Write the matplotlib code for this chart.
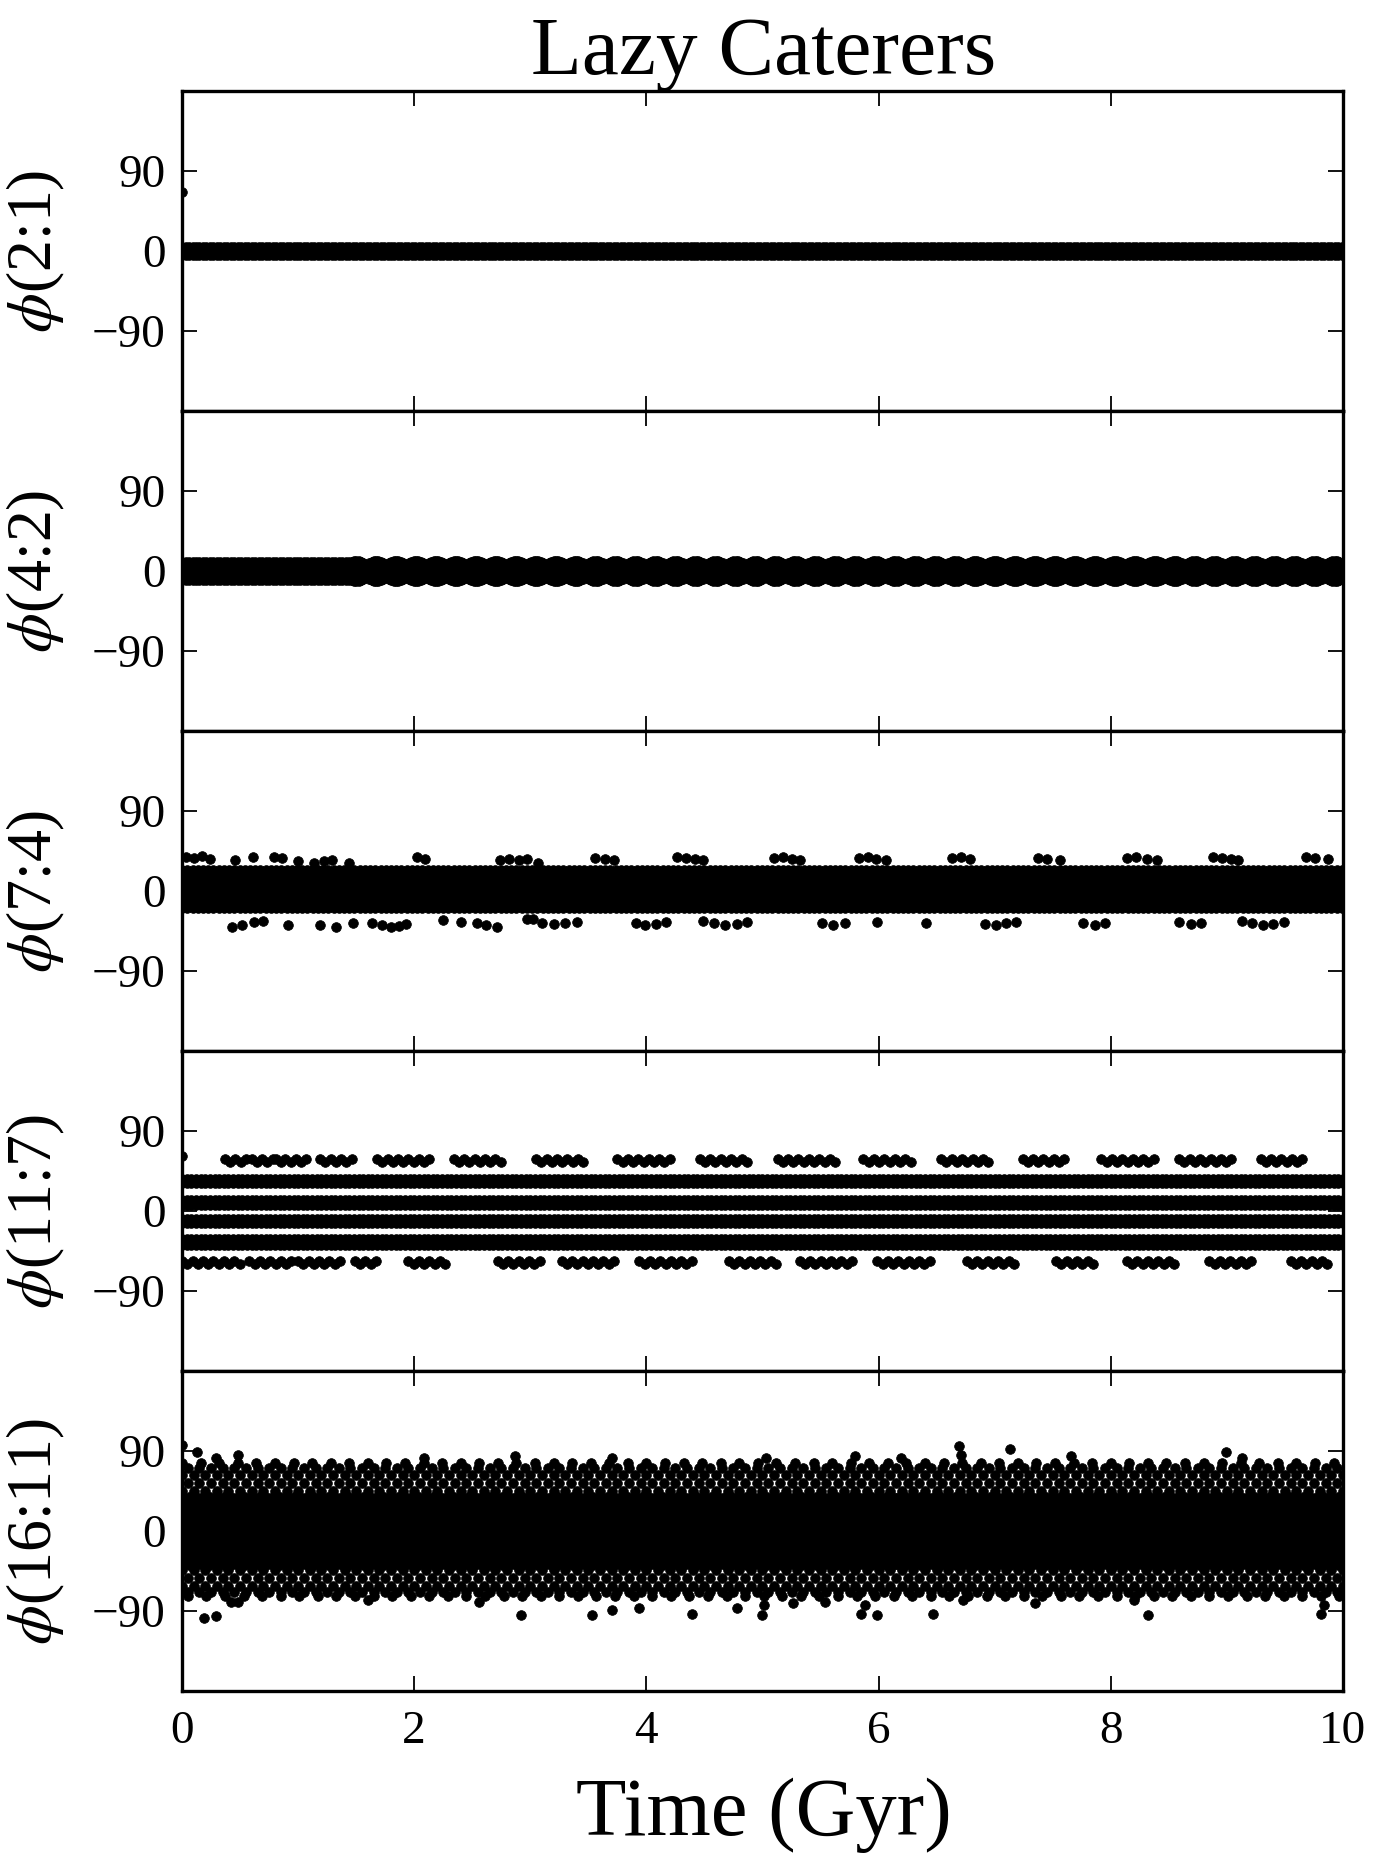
import numpy as np
import matplotlib
matplotlib.use("Agg")
import matplotlib.pyplot as plt

plt.rcParams.update({
    "font.family": ["Liberation Serif", "DejaVu Serif"],
    "mathtext.fontset": "stix",
    "axes.unicode_minus": True,
})

# ---------------------------------------------------------------- data
TITLE = "Lazy Caterers"
X_LABEL = "Time (Gyr)"
resonances = ["2:1", "4:2", "7:4", "11:7", "16:11"]
time_ticks = [0, 2, 4, 6, 8, 10]
phi_ticks = [-90, 0, 90]
T_MAX = 10

# Fully inked bands of points: (t_start, t_end, lower, upper, sampling of edge points)
bands_21 = [(0, 10, -4.5, 4.5, 0.03)]
bands_42 = [(0, 1.5, -10.5, 10.5, 0.03)]
# 4:2 libration after 1.5 Gyr: band core and scalloped edges
band_42_core = (1.5, 10, -9, 9)
scallop_42_start = 1.5
scallop_42_period = 0.172
scallop_42_dt = [-0.06, -0.04, -0.02, 0.0, 0.02, 0.04, 0.06]
scallop_42_phi = [9.0, 10.3, 11.0, 11.2, 11.0, 10.3, 9.0]

bands_74 = [(0, 10, -19, 24, 0.045)]
bands_117 = [(0, 10, 32, 36, 0.04), (0, 10, 7, 12.5, 0.04),
             (0, 10, -13.5, -9, 0.04), (0, 10, -38, -32, 0.04)]
bands_1611 = [(0, 10, -38, 38, 0.06)]

# sparse outer rows of the 16:11 cloud (degrees) and their time sampling
rows_1611 = [45, 54, 63, 71, -44, -53, -62, -69]
row_step_1611 = 0.10
edge_rows_1611 = [76, -73]
edge_step_1611 = 0.16

# isolated points (time in Gyr, phi in degrees)
pts_21_t = [0.0]
pts_21_phi = [66]

pts_74_t = [0.03, 0.10, 0.17, 0.24, 0.46, 0.61, 0.79, 0.86, 1.00, 1.14, 1.22, 1.29,
            1.44, 2.02, 2.09, 2.74, 2.82, 2.90, 2.97, 3.07, 3.56, 3.64, 3.72, 4.26,
            4.34, 4.42, 4.49, 5.10, 5.18, 5.25, 5.32, 5.83, 5.91, 5.98, 6.06, 6.63,
            6.71, 6.79, 7.37, 7.45, 7.56, 8.14, 8.22, 8.31, 8.40, 8.88, 8.96, 9.04,
            9.10, 9.68, 9.76, 9.87,
            0.43, 0.52, 0.62, 0.70, 0.91, 1.19, 1.33, 1.47, 1.64, 1.72, 1.80, 1.87,
            1.93, 2.25, 2.40, 2.54, 2.62, 2.71, 2.97, 3.02, 3.10, 3.20, 3.30, 3.40,
            3.91, 3.99, 4.08, 4.17, 4.49, 4.58, 4.68, 4.78, 4.87, 5.51, 5.61, 5.71,
            5.99, 6.41, 6.92, 7.01, 7.10, 7.18, 7.76, 7.86, 7.95, 8.59, 8.69, 8.78,
            9.13, 9.22, 9.31, 9.40, 9.49]
pts_74_phi = [38, 37, 39, 36, 35, 38, 38, 37, 34, 32, 34, 35,
              31, 38, 36, 35, 36, 35, 36, 31, 37, 36, 35, 38,
              37, 36, 35, 37, 38, 36, 35, 37, 38, 36, 35, 37,
              38, 36, 37, 36, 35, 37, 38, 36, 35, 38, 37, 36,
              35, 38, 37, 36,
              -40, -38, -35, -34, -38, -38, -40, -36, -36, -38, -40, -39,
              -37, -33, -35, -36, -38, -40, -31, -31, -36, -37, -36, -35,
              -36, -38, -37, -35, -34, -36, -38, -37, -35, -36, -38, -36,
              -35, -36, -37, -38, -36, -35, -36, -38, -36, -35, -37, -36,
              -34, -36, -38, -37, -35]

pts_117_t = [0.0]
pts_117_phi = [62]
# time spans (Gyr) of the 11:7 excursion clusters and their level (degrees)
clusters_up = [(0.37, 0.55), (0.60, 0.79), (0.81, 0.87), (0.89, 1.09), (1.19, 1.50),
               (1.68, 2.14), (2.34, 2.77), (3.05, 3.46), (3.75, 4.23), (4.46, 4.87),
               (5.13, 5.64), (5.87, 6.28), (6.54, 6.96), (7.24, 7.63), (7.92, 8.37),
               (8.59, 9.04), (9.29, 9.65)]
clusters_low = [(0.00, 0.53), (0.58, 0.95), (1.00, 1.39), (1.49, 1.70), (1.95, 2.30),
                (2.72, 3.08), (3.27, 3.75), (3.94, 4.42), (4.71, 5.13), (5.32, 5.80),
                (5.99, 6.47), (6.76, 7.18), (7.53, 7.88), (8.14, 8.56), (8.85, 9.23),
                (9.55, 9.87)]
cluster_up_phi = 57
cluster_low_phi = -58
cluster_step = 0.045

pts_1611_t = [0.0, 0.13, 0.29, 0.48, 2.08, 2.87, 3.70, 5.03, 5.80, 6.19, 6.69, 6.71,
              7.13, 7.66, 8.99, 9.13,
              0.19, 0.29, 0.42, 0.48, 1.60, 2.56, 2.92, 3.53, 3.70, 3.94, 4.39, 4.78,
              5.00, 5.01, 5.26, 5.54, 5.85, 5.88, 5.99, 6.47, 6.73, 7.35, 8.20, 8.32,
              9.81, 9.84]
pts_1611_phi = [97, 89, 82, 85, 82, 84, 82, 82, 84, 82, 96, 86,
                92, 84, 89, 82,
                -98, -96, -80, -80, -78, -80, -94, -94, -89, -87, -93, -87,
                -94, -83, -81, -80, -93, -83, -94, -93, -78, -81, -78, -94,
                -93, -83]

# ---------------------------------------------------------------- figure
DOT = 7.0  # marker diameter, points
MK = dict(color="k", ms=DOT, mew=0.5, mec="k", ls="none", marker="o")

fig, axes = plt.subplots(5, 1, figsize=(13.73, 18.63), dpi=100, sharex=True)
fig.subplots_adjust(left=0.1326, right=0.9781, bottom=0.0923, top=0.9512, hspace=0)


def draw_bands(ax, bands):
    for t0, t1, lo, hi, step in bands:
        ax.fill_between([t0, t1], [lo, lo], [hi, hi], color="k", lw=0)
        te = np.arange(t0, t1 + step / 2, step)
        ax.plot(te, np.full(te.size, lo), **MK)
        ax.plot(te, np.full(te.size, hi), **MK)


def draw_points(ax, t, phi):
    ax.plot(t, phi, **MK)


# 2:1
draw_bands(axes[0], bands_21)
draw_points(axes[0], pts_21_t, pts_21_phi)

# 4:2
draw_bands(axes[1], bands_42)
t0, t1, lo, hi = band_42_core
axes[1].fill_between([t0, t1], [lo, lo], [hi, hi], color="k", lw=0)
centres = np.arange(scallop_42_start, T_MAX + scallop_42_period, scallop_42_period)
st = (centres[:, None] + np.array(scallop_42_dt)[None, :]).ravel()
sp = np.tile(scallop_42_phi, centres.size)
axes[1].plot(st, sp, **MK)
axes[1].plot(st, -sp, **MK)

# 7:4
draw_bands(axes[2], bands_74)
draw_points(axes[2], pts_74_t, pts_74_phi)

# 11:7
draw_bands(axes[3], bands_117)
draw_points(axes[3], pts_117_t, pts_117_phi)
for segs, lev in ((clusters_up, cluster_up_phi), (clusters_low, cluster_low_phi)):
    for a, b in segs:
        tc = np.arange(a, b + 1e-9, cluster_step)
        off = np.where(np.arange(tc.size) % 2 == 0, 2.0, -2.0)
        axes[3].plot(tc, lev + off, **MK)

# 16:11
draw_bands(axes[4], bands_1611)
for i, lev in enumerate(rows_1611):
    shift = 0 if i % 2 == 0 else row_step_1611 / 2
    tr = np.arange(shift, T_MAX + 1e-9, row_step_1611)
    axes[4].plot(tr, np.full(tr.size, lev), **MK)
for i, lev in enumerate(edge_rows_1611):
    tr = np.arange(0.05 * i, T_MAX + 1e-9, edge_step_1611)
    axes[4].plot(tr, np.full(tr.size, lev), **MK)
draw_points(axes[4], pts_1611_t, pts_1611_phi)

for ax, res in zip(axes, resonances):
    ax.set_xlim(0, T_MAX)
    ax.set_ylim(-180, 180)
    ax.set_yticks(phi_ticks)
    ax.set_yticklabels(["\u221290", "0", "90"])
    ax.set_xticks(time_ticks)
    ax.tick_params(direction="in", length=11, width=1.3, top=True, right=True,
                   labelsize=34, pad=12)
    ax.tick_params(axis="x", labelsize=34, pad=14)
    for s in ax.spines.values():
        s.set_linewidth(2.4)
    ax.set_ylabel(r"$\phi$(" + res + ")", fontsize=46)
    ax.yaxis.set_label_coords(-0.099, 0.5)

axes[-1].set_xticklabels([str(v) for v in time_ticks])
fig.text(0.5565, 1 - 74 / 1863, TITLE, fontsize=60, ha="center", va="baseline")
fig.text(0.5565, 1 - 1835 / 1863, X_LABEL, fontsize=59.5, ha="center", va="baseline")

fig.savefig("out.png", dpi=100)
